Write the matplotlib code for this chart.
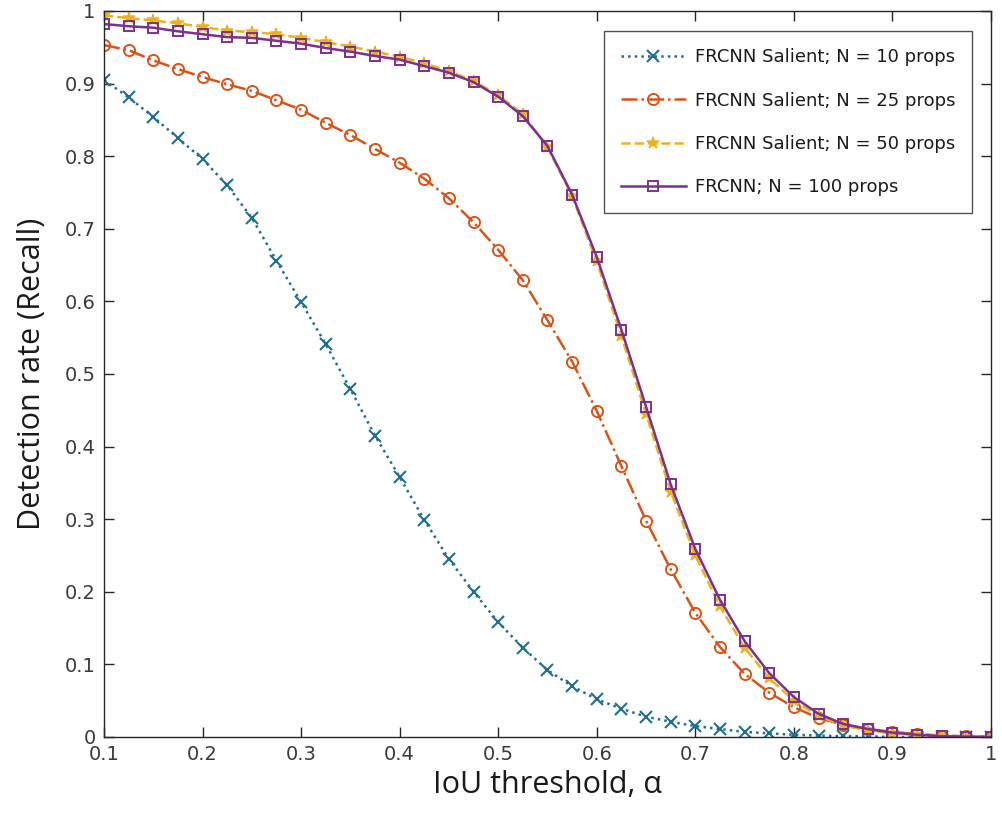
import numpy as np
import matplotlib
matplotlib.use("Agg")
import matplotlib.pyplot as plt

# IoU thresholds, 0.1 to 1.0 in steps of 0.025
iou = [0.1, 0.125, 0.15, 0.175, 0.2, 0.225, 0.25, 0.275, 0.3, 0.325, 0.35, 0.375,
       0.4, 0.425, 0.45, 0.475, 0.5, 0.525, 0.55, 0.575, 0.6, 0.625, 0.65, 0.675,
       0.7, 0.725, 0.75, 0.775, 0.8, 0.825, 0.85, 0.875, 0.9, 0.925, 0.95, 0.975, 1.0]

recall_sal10 = [0.905, 0.881, 0.854, 0.825, 0.796, 0.760, 0.715, 0.656, 0.599, 0.541,
                0.479, 0.415, 0.358, 0.299, 0.245, 0.200, 0.158, 0.123, 0.092, 0.070,
                0.052, 0.039, 0.028, 0.021, 0.015, 0.011, 0.007, 0.005, 0.003, 0.002,
                0.001, 0.001, 0.0, 0.0, 0.0, 0.0, 0.0]

recall_sal25 = [0.953, 0.946, 0.932, 0.920, 0.909, 0.899, 0.890, 0.877, 0.864, 0.846,
                0.829, 0.810, 0.791, 0.769, 0.742, 0.709, 0.671, 0.629, 0.574, 0.517,
                0.449, 0.373, 0.298, 0.231, 0.171, 0.124, 0.087, 0.061, 0.041, 0.026,
                0.017, 0.011, 0.007, 0.004, 0.002, 0.001, 0.0]

recall_sal50 = [0.994, 0.990, 0.987, 0.983, 0.978, 0.973, 0.971, 0.968, 0.963, 0.957,
                0.951, 0.944, 0.937, 0.928, 0.917, 0.904, 0.884, 0.858, 0.812, 0.745,
                0.655, 0.552, 0.445, 0.338, 0.250, 0.180, 0.123, 0.081, 0.050, 0.029,
                0.016, 0.009, 0.005, 0.003, 0.001, 0.0, 0.0]

recall_frcnn100 = [0.982, 0.979, 0.977, 0.972, 0.968, 0.964, 0.963, 0.959, 0.955, 0.949,
                   0.944, 0.938, 0.933, 0.924, 0.915, 0.902, 0.882, 0.855, 0.814, 0.747,
                   0.661, 0.561, 0.455, 0.348, 0.259, 0.189, 0.132, 0.088, 0.055, 0.032,
                   0.018, 0.011, 0.006, 0.003, 0.001, 0.0005, 0.0]

labels = ["FRCNN Salient; N = 10 props", "FRCNN Salient; N = 25 props",
          "FRCNN Salient; N = 50 props", "FRCNN; N = 100 props"]

fig = plt.figure(figsize=(10.02, 8.14), dpi=100)
ax = fig.add_axes([0.1038, 0.0946, 0.8852, 0.8919])

ax.plot(iou, recall_sal10, color="#1f6f8e", linestyle=":", linewidth=1.8,
        marker="x", markersize=8, markeredgewidth=1.5, label=labels[0])
ax.plot(iou, recall_sal25, color="#d95319", linestyle="-.", linewidth=1.8,
        marker="o", markersize=8, markerfacecolor="none", markeredgewidth=1.4,
        label=labels[1])
ax.plot(iou, recall_sal50, color="#edb120", linestyle="--", linewidth=1.8,
        marker="*", markersize=9, markeredgewidth=1.1, label=labels[2])
ax.plot(iou, recall_frcnn100, color="#7e2f8e", linestyle="-", linewidth=1.8,
        marker="s", markersize=7, markerfacecolor="none", markeredgewidth=1.4,
        label=labels[3])

ax.set_xlim(0.1, 1.0)
ax.set_ylim(0, 1)
ax.set_xticks(np.arange(0.1, 1.01, 0.1))
ax.set_xticklabels(["0.1", "0.2", "0.3", "0.4", "0.5", "0.6", "0.7", "0.8", "0.9", "1"])
ax.set_yticks(np.arange(0, 1.01, 0.1))
ax.set_yticklabels(["0", "0.1", "0.2", "0.3", "0.4", "0.5", "0.6", "0.7", "0.8", "0.9", "1"])

axis_col = "#262626"
for s in ax.spines.values():
    s.set_color(axis_col)
    s.set_linewidth(1.0)
ax.tick_params(direction="in", top=True, right=True, length=7, width=1.0,
               color=axis_col, labelcolor="#3a3a3a", labelsize=14, pad=6)

ax.set_xlabel("IoU threshold, α", fontsize=22, family="Open Sans", color="#1a1a1a",
              labelpad=4)
ax.set_ylabel("Detection rate (Recall)", fontsize=22, family="Open Sans",
              color="#1a1a1a", labelpad=13)

leg = ax.legend(loc="upper right", bbox_to_anchor=(0.979, 0.972), fontsize=13,
                frameon=True, fancybox=False, edgecolor=axis_col, handlelength=3.6,
                borderpad=0.95, labelspacing=1.4, handletextpad=0.5,
                borderaxespad=0)
leg.get_frame().set_linewidth(1.0)
for t in leg.get_texts():
    t.set_color("#1a1a1a")

fig.savefig("out.png", dpi=100, facecolor="white")
